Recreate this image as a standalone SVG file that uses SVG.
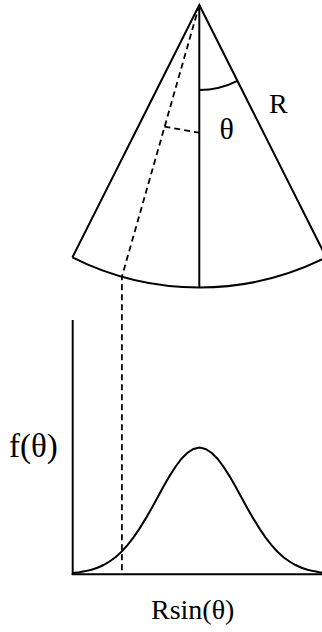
<svg xmlns="http://www.w3.org/2000/svg" width="322" height="632" viewBox="0 0 322 632">
<style>
.ln{fill:none;stroke:#000;stroke-width:2}
.ds{fill:none;stroke:#000;stroke-width:1.8;stroke-dasharray:6 4}
.t{font-family:"Liberation Serif","Times New Roman",serif;fill:#000}
</style>
<rect width="322" height="632" fill="#fff"/>
<g id="sector">
<path class="ln" d="M72.4,257.4 L199.3,5 L326.2,257.4"/>
<path class="ln" d="M72.4,257.4 A282.5,282.5 0 0 0 326.2,257.4"/>
<line class="ln" x1="199.3" y1="5" x2="199.3" y2="287.5"/>
<path class="ln" d="M199.3,90 A85,85 0 0 0 237.5,80.9"/>
</g>
<g id="labels-top">
<text class="t" x="269" y="113" font-size="28">R</text>
<text class="t" x="219.5" y="139" font-size="30">θ</text>
</g>
<g id="plot">
<line class="ln" x1="72.7" y1="320" x2="72.7" y2="575"/>
<line class="ln" x1="71.7" y1="574.3" x2="322" y2="574.3"/>
<polyline class="ln" points="72.7,573.3 73.5,572.9 79.5,572.2 85.5,571.1 91.5,569.7 97.5,567.7 103.5,565 109.5,561.5 115.5,557.2 121.5,551.7 127.5,545.2 133.5,537.4 139.5,528.6 145.5,518.9 151.5,508.4 157.5,497.5 163.5,486.6 169.5,476.1 175.5,466.7 181.5,458.7 187.5,452.7 193.5,448.9 199.5,447.6 205.5,448.9 211.5,452.7 217.5,458.7 223.5,466.7 229.5,476.1 235.5,486.6 241.5,497.5 247.5,508.4 253.5,518.9 259.5,528.6 265.5,537.4 271.5,545.2 277.5,551.7 283.5,557.2 289.5,561.5 295.5,565 301.5,567.7 307.5,569.7 313.5,571.1 319.5,572.2 325.5,572.9"/>
</g>
<g id="labels-plot">
<text class="t" x="9" y="457" font-size="33">f(θ)</text>
<text class="t" x="151" y="619" font-size="28">Rsin(θ)</text>
</g>
<g id="connectors">
<path class="ds" d="M199.3,5 L121.9,276.7 L121.9,574"/>
<line class="ds" x1="164.4" y1="126.7" x2="199.3" y2="132.7"/>
</g>
</svg>
